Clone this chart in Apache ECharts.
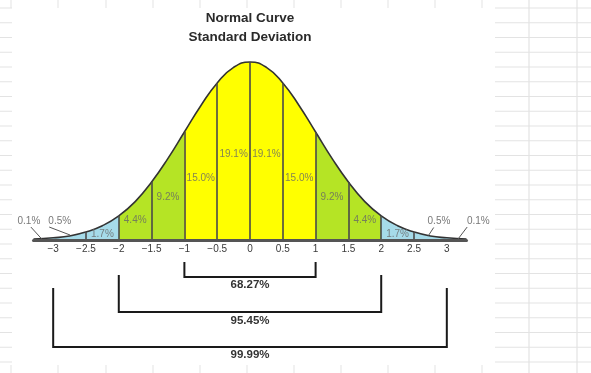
<!DOCTYPE html>
<html>
<head>
<meta charset="utf-8">
<style>
html,body{margin:0;padding:0;background:#fff;}
#chart{width:591px;height:373px;}
</style>
<script src="https://cdn.jsdelivr.net/npm/echarts@6/dist/echarts.min.js"></script>
</head>
<body>
<div id="chart"></div>
<script>
// ---- data ----
const curveX = [-3.3, -3.0, -2.75, -2.5, -2.25, -2.0, -1.75, -1.5, -1.25, -1.0, -0.75, -0.5, -0.25, 0,
                0.25, 0.5, 0.75, 1.0, 1.25, 1.5, 1.75, 2.0, 2.25, 2.5, 2.75, 3.0, 3.3];
const curveY = [0.002, 0.005, 0.009, 0.018, 0.032, 0.054, 0.086, 0.130, 0.183, 0.242, 0.301, 0.352, 0.387, 0.399,
                0.387, 0.352, 0.301, 0.242, 0.183, 0.130, 0.086, 0.054, 0.032, 0.018, 0.009, 0.005, 0.002];
const separatorX = [-2.5, -2.0, -1.5, -1.0, -0.5, 0, 0.5, 1.0, 1.5, 2.0, 2.5];
const tickValues = [-3, -2.5, -2, -1.5, -1, -0.5, 0, 0.5, 1, 1.5, 2, 2.5, 3];
const segLabelX = [-2.25, -1.75, -1.25, -0.75, -0.25, 0.25, 0.75, 1.25, 1.75, 2.25];
const segLabelY = [0.013, 0.045, 0.096, 0.139, 0.193, 0.193, 0.139, 0.096, 0.045, 0.013];
const segLabelText = ['1.7%', '4.4%', '9.2%', '15.0%', '19.1%', '19.1%', '15.0%', '9.2%', '4.4%', '1.7%'];
const tailLabelX = [-3.37, -2.9, 2.88, 3.48];
const tailLabelY = [0.043, 0.043, 0.043, 0.043];
const tailLabelText = ['0.1%', '0.5%', '0.5%', '0.1%'];
const tailPointerFrom = [[-3.34, 0.029], [-3.06, 0.029], [2.8, 0.028], [3.31, 0.029]];
const tailPointerTo = [[-3.16, 0.0], [-2.74, 0.011], [2.72, 0.010], [3.17, 0.002]];
const bracketSigma = [1, 2, 3];
const bracketText = ['68.27%', '95.45%', '99.99%'];
const titleLines = ['Normal Curve', 'Standard Deviation'];

const curveData = curveX.map((x, i) => [x, curveY[i]]);
const yAt = x => curveY[curveX.indexOf(x)];
const FONT = '"Liberation Sans", Arial, sans-serif';

const chart = echarts.init(document.getElementById('chart'), null, {renderer: 'canvas'});

const option = {
  animation: false,
  backgroundColor: '#fff',
  grid: {left: 33.5, right: 124.5, top: 52.6, bottom: 133},
  xAxis: {
    type: 'value', min: -3.3, max: 3.3, z: 10,
    axisLine: {show: true, lineStyle: {color: '#555', width: 3}},
    axisTick: {show: false},
    splitLine: {show: false},
    axisLabel: {
      customValues: tickValues,
      margin: 4,
      fontSize: 10, color: '#3a3a3a', fontFamily: FONT,
      formatter: v => String(v).replace('-', '\u2212')
    }
  },
  yAxis: {type: 'value', min: 0, max: 0.42, show: false},
  visualMap: {
    show: false, type: 'piecewise', dimension: 0, seriesIndex: 0,
    pieces: [
      {lt: -2, color: '#a6dbe9'},
      {gte: -2, lt: -1, color: '#b5e425'},
      {gte: -1, lte: 1, color: '#ffff00'},
      {gt: 1, lte: 2, color: '#b5e425'},
      {gt: 2, color: '#a6dbe9'}
    ]
  },
  series: [
    {
      type: 'line', data: curveData, smooth: 0.5, symbol: 'none',
      lineStyle: {width: 0}, areaStyle: {opacity: 1}, z: 2, silent: true
    },
    {
      type: 'line', data: curveData, smooth: 0.5, symbol: 'none', z: 4, silent: true,
      lineStyle: {color: '#333', width: 1.6},
      markLine: {
        silent: true, symbol: 'none', label: {show: false},
        lineStyle: {color: '#4a4a4a', width: 1.6, type: 'solid'},
        data: separatorX.map(x => [{coord: [x, 0]}, {coord: [x, yAt(x)]}])
      }
    },
    {
      type: 'scatter', symbolSize: 0, z: 6, silent: true,
      data: segLabelX.map((x, i) => [x, segLabelY[i]]),
      label: {
        show: true, position: 'inside',
        formatter: p => segLabelText[p.dataIndex],
        fontSize: 10, color: '#666', fontFamily: FONT
      }
    },
    {
      type: 'scatter', symbolSize: 0, z: 6, silent: true, clip: false,
      data: tailLabelX.map((x, i) => [x, tailLabelY[i]]),
      label: {
        show: true, position: 'inside',
        formatter: p => tailLabelText[p.dataIndex],
        fontSize: 10, color: '#555', fontFamily: FONT
      }
    }
  ]
};
chart.setOption(option);

// ---- spreadsheet background grid, title, pointers, brackets ----
const g = [];
const gridColor = '#e3e3e3';
const cols = [11, 58, 106, 153, 200, 247, 294, 341, 388, 435, 482, 529, 577];
for (let y = 8; y < 373; y += 14.75) {
  g.push({type: 'line', z: -10, silent: true, shape: {x1: 0, y1: y, x2: 12, y2: y}, style: {stroke: gridColor, lineWidth: 1}});
  g.push({type: 'line', z: -10, silent: true, shape: {x1: 495, y1: y, x2: 591, y2: y}, style: {stroke: gridColor, lineWidth: 1}});
}
cols.forEach(x => {
  if (x > 500) {
    g.push({type: 'line', z: -10, silent: true, shape: {x1: x, y1: 0, x2: x, y2: 373}, style: {stroke: gridColor, lineWidth: 1.2}});
  } else {
    g.push({type: 'line', z: -10, silent: true, shape: {x1: x, y1: 0, x2: x, y2: 8}, style: {stroke: gridColor, lineWidth: 1}});
    g.push({type: 'line', z: -10, silent: true, shape: {x1: x, y1: 365, x2: x, y2: 373}, style: {stroke: gridColor, lineWidth: 1}});
  }
});

const toPx = pt => chart.convertToPixel({gridIndex: 0}, pt);
const xc = chart.convertToPixel({xAxisIndex: 0}, 0);

const titleY = [18.5, 37.5];
titleLines.forEach((t, i) => {
  g.push({
    type: 'text', silent: true, z: 10, x: xc, y: titleY[i],
    style: {text: t, textAlign: 'center', textVerticalAlign: 'middle',
            font: 'bold 13.5px ' + FONT, fill: '#2a2a2a'}
  });
});

tailPointerFrom.forEach((f, i) => {
  const a = toPx(f), b = toPx(tailPointerTo[i]);
  g.push({type: 'line', silent: true, z: 10, shape: {x1: a[0], y1: a[1], x2: b[0], y2: b[1]},
          style: {stroke: '#555', lineWidth: 1}});
});

const bracketTop = [262, 275, 288];
const bracketBottom = [277, 312, 347];
const bracketLabelY = [285, 321, 355];
bracketSigma.forEach((s, i) => {
  const xl = chart.convertToPixel({xAxisIndex: 0}, -s);
  const xr = chart.convertToPixel({xAxisIndex: 0}, s);
  g.push({
    type: 'polyline', silent: true, z: 10,
    shape: {points: [[xl, bracketTop[i]], [xl, bracketBottom[i]], [xr, bracketBottom[i]], [xr, bracketTop[i]]]},
    style: {stroke: '#1a1a1a', lineWidth: 2, fill: null}
  });
  g.push({
    type: 'text', silent: true, z: 10, x: xc, y: bracketLabelY[i],
    style: {text: bracketText[i], textAlign: 'center', textVerticalAlign: 'middle',
            font: 'bold 11.5px ' + FONT, fill: '#333'}
  });
});
chart.setOption({graphic: {elements: g}});
</script>
</body>
</html>
